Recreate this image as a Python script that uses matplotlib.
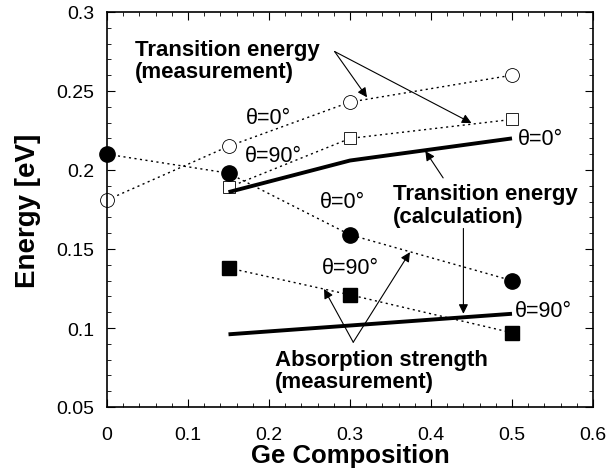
import matplotlib.pyplot as plt
from matplotlib.ticker import MultipleLocator

plt.rcParams['font.family'] = ['Liberation Sans', 'DejaVu Sans']

# Ge composition / energy data
x_meas0 = [0.0, 0.15, 0.3, 0.5]
y_meas0 = [0.181, 0.215, 0.243, 0.260]   # transition energy, theta=0 (open circles)
x_meas90 = [0.15, 0.3, 0.5]
y_meas90 = [0.189, 0.220, 0.232]         # transition energy, theta=90 (open squares)
x_calc0 = [0.15, 0.3, 0.5]
y_calc0 = [0.186, 0.206, 0.220]          # calculation, theta=0
x_calc90 = [0.15, 0.5]
y_calc90 = [0.096, 0.109]                # calculation, theta=90
x_abs0 = [0.0, 0.15, 0.3, 0.5]
y_abs0 = [0.210, 0.198, 0.159, 0.130]    # absorption strength, theta=0 (filled circles)
x_abs90 = [0.15, 0.3, 0.5]
y_abs90 = [0.138, 0.121, 0.097]          # absorption strength, theta=90 (filled squares)

fig = plt.figure(figsize=(6.09, 4.77), dpi=100)
ax = fig.add_axes([107/609, 1-408/477, (593-107)/609, (408-13)/477])

dot = dict(color='black', linestyle=(0, (1.5, 2.5)), linewidth=1.0, clip_on=False)
ax.plot(x_meas0, y_meas0, marker='o', markersize=10, markerfacecolor='white',
        markeredgecolor='black', markeredgewidth=0.6, **dot)
ax.plot(x_meas90, y_meas90, marker='s', markersize=9, markerfacecolor='white',
        markeredgecolor='black', markeredgewidth=0.6, **dot)
ax.plot(x_abs0, y_abs0, marker='o', markersize=11, markerfacecolor='black',
        markeredgecolor='black', **dot)
ax.plot(x_abs90, y_abs90, marker='s', markersize=10, markerfacecolor='black',
        markeredgecolor='black', **dot)
ax.plot(x_calc0, y_calc0, color='black', linewidth=2.8, solid_capstyle='butt')
ax.plot(x_calc90, y_calc90, color='black', linewidth=2.8, solid_capstyle='butt')

ax.set_xlim(0, 0.6)
ax.set_ylim(0.05, 0.3)
ax.xaxis.set_minor_locator(MultipleLocator(0.02))
ax.yaxis.set_minor_locator(MultipleLocator(0.01))
ax.set_xticks([0, 0.1, 0.2, 0.3, 0.4, 0.5, 0.6])
ax.set_xticklabels(['0', '0.1', '0.2', '0.3', '0.4', '0.5', '0.6'])
ax.set_yticks([0.05, 0.1, 0.15, 0.2, 0.25, 0.3])
ax.set_yticklabels(['0.05', '0.1', '0.15', '0.2', '0.25', '0.3'])
ax.tick_params(which='both', direction='in', top=True, right=True, labelsize=14)
ax.tick_params(which='major', length=6, width=0.8)
ax.tick_params(which='minor', length=3, width=0.6)
ax.tick_params(axis='x', which='major', pad=14)
ax.tick_params(axis='y', which='major', pad=9)
for s in ax.spines.values():
    s.set_linewidth(1.2)

ax.set_xlabel('Ge Composition', fontsize=18.5, fontweight='bold', labelpad=0)
ax.set_ylabel('Energy [eV]', fontsize=20, fontweight='bold', labelpad=11)

tsz = 16
ax.text(0.035, 0.283, 'Transition energy\n(measurement)', fontsize=tsz, fontweight='bold',
        va='top', ha='left', linespacing=1.1)
ax.text(0.353, 0.1915, 'Transition energy\n(calculation)', fontsize=tsz, fontweight='bold',
        va='top', ha='left', linespacing=1.1)
ax.text(0.207, 0.087, 'Absorption strength\n(measurement)', fontsize=tsz, fontweight='bold',
        va='top', ha='left', linespacing=1.1)

lsz = 15.5
ax.text(0.199, 0.2335, 'θ=0°', fontsize=lsz, ha='center', va='center')
ax.text(0.205, 0.209, 'θ=90°', fontsize=lsz, ha='center', va='center')
ax.text(0.507, 0.220, 'θ=0°', fontsize=lsz, ha='left', va='center')
ax.text(0.291, 0.180, 'θ=0°', fontsize=lsz, ha='center', va='center')
ax.text(0.300, 0.138, 'θ=90°', fontsize=lsz, ha='center', va='center')
ax.text(0.504, 0.111, 'θ=90°', fontsize=lsz, ha='left', va='center')

arr = dict(arrowstyle='-|>', color='black', linewidth=0.8, mutation_scale=14,
           shrinkA=0, shrinkB=0)
ax.annotate('', xy=(0.321, 0.246), xytext=(0.281, 0.275), arrowprops=arr)
ax.annotate('', xy=(0.450, 0.2297), xytext=(0.281, 0.275), arrowprops=arr)
ax.annotate('', xy=(0.393, 0.212), xytext=(0.415, 0.195), arrowprops=arr)
ax.annotate('', xy=(0.440, 0.109), xytext=(0.440, 0.163), arrowprops=arr)
ax.annotate('', xy=(0.268, 0.1247), xytext=(0.304, 0.091), arrowprops=arr)
ax.annotate('', xy=(0.374, 0.148), xytext=(0.304, 0.091), arrowprops=arr)

fig.savefig('out.png', dpi=100)
